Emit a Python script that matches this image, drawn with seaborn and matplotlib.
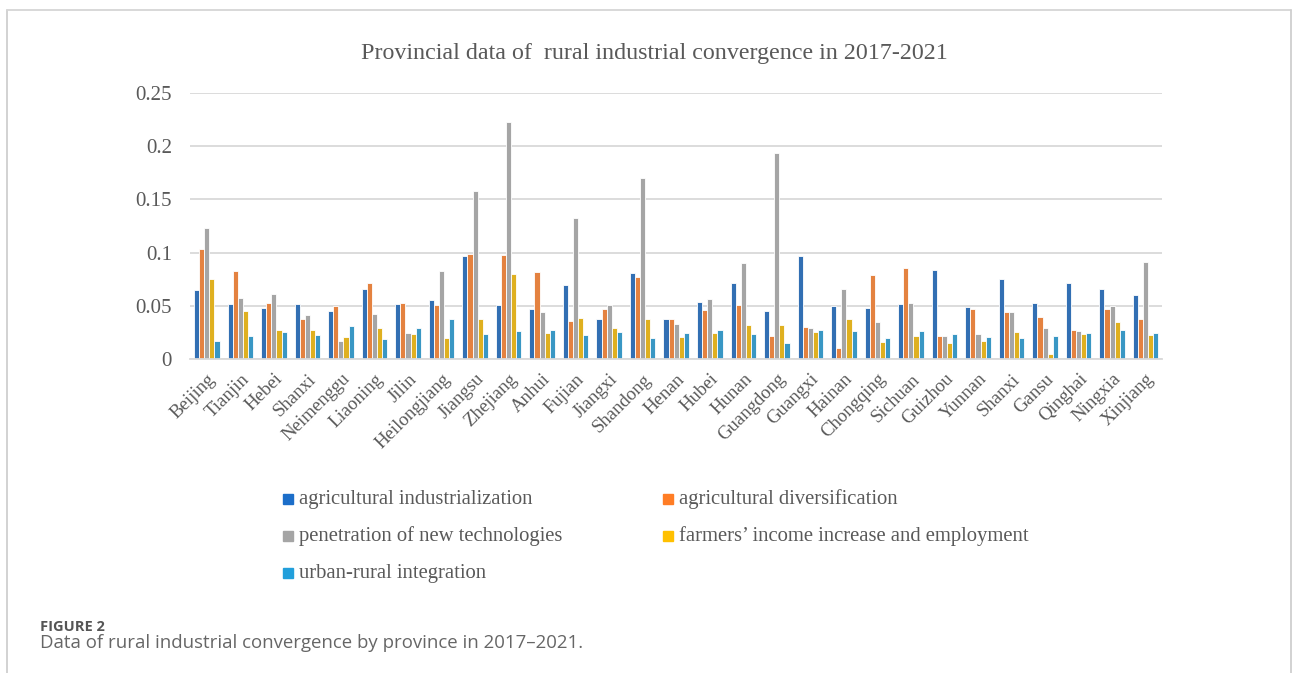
import numpy as np
import pandas as pd
import matplotlib
matplotlib.use("Agg")
import matplotlib.pyplot as plt
from matplotlib.lines import Line2D
import seaborn as sns

# provinces (Shanxi appears twice in the source chart)
provinces = ["Beijing", "Tianjin", "Hebei", "Shanxi", "Neimenggu", "Liaoning", "Jilin",
             "Heilongjiang", "Jiangsu", "Zhejiang", "Anhui", "Fujian", "Jiangxi", "Shandong",
             "Henan", "Hubei", "Hunan", "Guangdong", "Guangxi", "Hainan", "Chongqing",
             "Sichuan", "Guizhou", "Yunnan", "Shanxi", "Gansu", "Qinghai", "Ningxia", "Xinjiang"]

series_names = ["agricultural industrialization", "agricultural diversification",
                "penetration of new technologies", "farmers\u2019 income increase and employment",
                "urban-rural integration"]

agri_ind = [0.065, 0.052, 0.048, 0.052, 0.045, 0.066, 0.052, 0.056, 0.097, 0.051,
            0.047, 0.070, 0.038, 0.081, 0.038, 0.054, 0.072, 0.045, 0.097, 0.050,
            0.048, 0.052, 0.084, 0.049, 0.075, 0.053, 0.072, 0.066, 0.060]
agri_div = [0.104, 0.083, 0.053, 0.038, 0.050, 0.072, 0.053, 0.051, 0.099, 0.098,
            0.082, 0.036, 0.047, 0.077, 0.038, 0.046, 0.051, 0.022, 0.030, 0.011,
            0.079, 0.086, 0.022, 0.047, 0.044, 0.040, 0.028, 0.047, 0.038]
new_tech = [0.123, 0.058, 0.061, 0.042, 0.017, 0.043, 0.025, 0.083, 0.158, 0.223,
            0.044, 0.133, 0.051, 0.170, 0.033, 0.057, 0.090, 0.194, 0.029, 0.066,
            0.035, 0.053, 0.022, 0.024, 0.044, 0.029, 0.027, 0.050, 0.091]
income = [0.075, 0.045, 0.028, 0.028, 0.021, 0.029, 0.024, 0.020, 0.038, 0.080,
          0.025, 0.039, 0.029, 0.038, 0.021, 0.025, 0.032, 0.032, 0.026, 0.038,
          0.016, 0.022, 0.015, 0.017, 0.026, 0.005, 0.024, 0.035, 0.023]
urban_rural = [0.017, 0.022, 0.026, 0.023, 0.031, 0.019, 0.029, 0.038, 0.024, 0.027,
               0.028, 0.023, 0.026, 0.020, 0.025, 0.028, 0.024, 0.015, 0.028, 0.027,
               0.020, 0.027, 0.024, 0.021, 0.020, 0.022, 0.025, 0.028, 0.025]

colors = ["#1C6EC9", "#FF7D25", "#A5A5A5", "#FFC000", "#229FDB"]

# long table, use position index so the two "Shanxi" stay apart
idx = np.arange(len(provinces))
rows = []
for name, vals in zip(series_names, [agri_ind, agri_div, new_tech, income, urban_rural]):
    for i, v in zip(idx, vals):
        rows.append({"pos": i, "series": name, "value": v})
df = pd.DataFrame(rows)

sns.set_style("white")
plt.rcParams["font.family"] = ["Liberation Serif", "DejaVu Serif"]

fig = plt.figure(figsize=(12.93, 6.73), dpi=100)
ax = fig.add_axes([0.147, 0.466, 0.752, 0.396])

sns.barplot(data=df, x="pos", y="value", hue="series", hue_order=series_names,
            palette=colors, width=0.76, edgecolor="white", linewidth=0.6,
            ax=ax, legend=False)

ax.set_ylim(0, 0.25)
ax.set_xlim(-0.5, len(provinces) - 0.5)
ax.set_yticks([0, 0.05, 0.1, 0.15, 0.2, 0.25])
ax.set_yticklabels(["0", "0.05", "0.1", "0.15", "0.2", "0.25"], fontsize=15, color="#595959")
ax.set_xticks(idx)
ax.set_xticklabels(provinces, rotation=45, ha="right", rotation_mode="anchor",
                   fontsize=13.5, color="#595959")
ax.tick_params(axis="x", length=0, pad=8)
ax.tick_params(axis="y", length=0, pad=13)
ax.yaxis.grid(True, color="#D9D9D9", linewidth=1.3)
ax.set_axisbelow(True)
for s in ["top", "right", "left"]:
    ax.spines[s].set_visible(False)
ax.spines["bottom"].set_color("#D9D9D9")
ax.spines["bottom"].set_linewidth(1.3)
ax.set_xlabel("")
ax.set_ylabel("")

fig.text(0.506, 0.921, "Provincial data of  rural industrial convergence in 2017-2021",
         ha="center", va="center", fontsize=17.3, color="#595959")

# legend, two columns, row-wise order like the reference
pairs = [(0, 0.2225, 0.258), (1, 0.5165, 0.258), (2, 0.2225, 0.203), (3, 0.5165, 0.203),
         (4, 0.2225, 0.148)]
for k, xf, yf in pairs:
    fig.add_artist(Line2D([xf], [yf + 0.001], marker="s", markersize=7.5, linestyle="",
                          color=colors[k], transform=fig.transFigure))
    fig.text(xf + 0.0085, yf, series_names[k], ha="left", va="center",
             fontsize=14.9, color="#595959")

# caption under the figure
fig.text(0.031, 0.068, "FIGURE 2", fontsize=10.5, fontweight="bold", color="#555555",
         family=["Open Sans", "DejaVu Sans"], va="center")
fig.text(0.031, 0.045, "Data of rural industrial convergence by province in 2017\u20132021.",
         fontsize=13.4, color="#666666", family=["Open Sans", "DejaVu Sans"], va="center")

# card border
fig.add_artist(Line2D([0.0055, 0.0055], [0.0, 0.985], color="#CFCFCF", linewidth=1.3,
                      transform=fig.transFigure))
fig.add_artist(Line2D([0.0055, 0.9985], [0.985, 0.985], color="#D6D6D6", linewidth=1.3,
                      transform=fig.transFigure))
fig.add_artist(Line2D([0.9985, 0.9985], [0.0, 0.985], color="#CFCFCF", linewidth=1.3,
                      transform=fig.transFigure))

fig.savefig("out.png", dpi=100)
